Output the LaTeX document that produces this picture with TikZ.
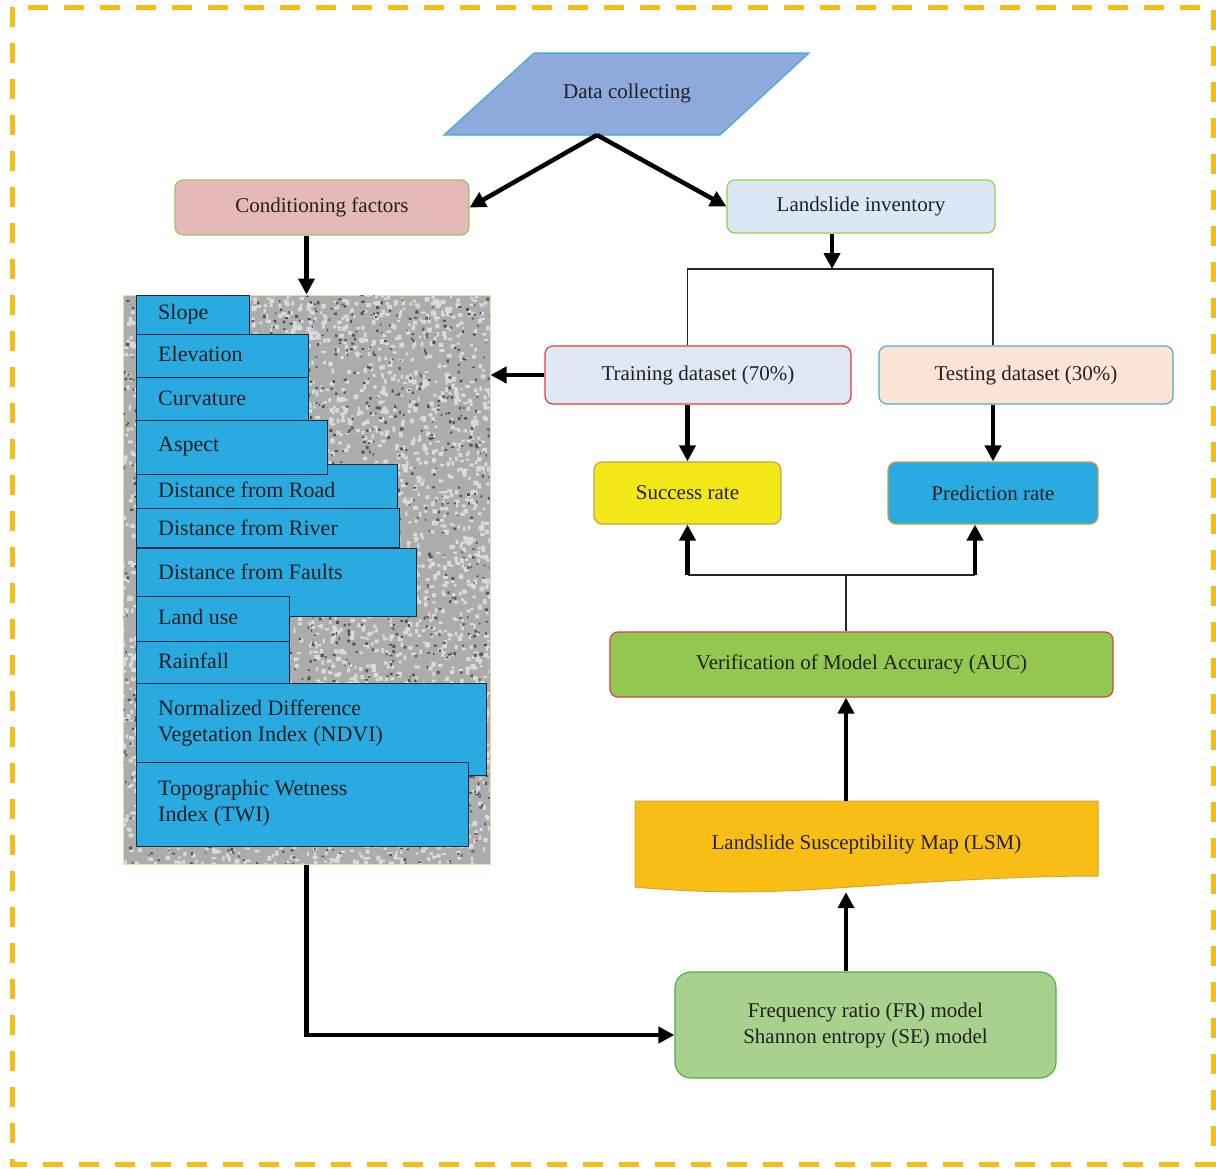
\documentclass[tikz,border=0pt]{standalone}
\usepackage{fontspec}
\setmainfont{Liberation Serif}
\usetikzlibrary{arrows.meta,calc}
\definecolor{txt}{RGB}{35,31,32}
\definecolor{frame}{RGB}{245,190,20}
\definecolor{dcfill}{RGB}{142,169,219}
\definecolor{dcline}{RGB}{64,170,220}
\definecolor{condfill}{RGB}{230,185,185}
\definecolor{condline}{RGB}{155,195,90}
\definecolor{invfill}{RGB}{218,232,246}
\definecolor{invline}{RGB}{146,208,80}
\definecolor{trainfill}{RGB}{222,232,245}
\definecolor{redline}{RGB}{225,60,60}
\definecolor{testfill}{RGB}{251,228,214}
\definecolor{testline}{RGB}{75,172,198}
\definecolor{succfill}{RGB}{242,232,24}
\definecolor{tanline}{RGB}{200,160,70}
\definecolor{bluefill}{RGB}{41,171,226}
\definecolor{veriffill}{RGB}{146,200,80}
\definecolor{lsmfill}{RGB}{249,190,22}
\definecolor{lsmline}{RGB}{220,165,40}
\definecolor{frfill}{RGB}{169,209,142}
\definecolor{frline}{RGB}{76,175,80}
\definecolor{factline}{RGB}{27,42,65}
\definecolor{graybase}{RGB}{172,172,172}
\definecolor{graylight}{RGB}{218,218,218}
\definecolor{graydark}{RGB}{85,85,85}
\definecolor{grayline}{RGB}{240,220,160}
\tikzset{
  lbl/.style={font=\fontsize{21}{25}\selectfont, text=txt},
  box/.style={lbl, rounded corners=8pt, line width=1.2pt, draw, inner sep=0pt, align=center},
  factbox/.style={draw=factline, fill=bluefill, line width=1.1pt, inner sep=0pt, anchor=north west},
  ftext/.style={font=\fontsize{22}{26}\selectfont, text=txt, anchor=west, align=left, inner sep=0pt},
  bigarrow/.style={line width=4.5pt, draw=black, -{Triangle[length=16pt,width=16pt]}},
  thinline/.style={line width=1.4pt, draw=black!85},
}
\begin{document}
\begin{tikzpicture}[x=1pt,y=-1pt]
\useasboundingbox (0,0) rectangle (1216,1168);
% frame
\draw[frame, line width=5pt, dash pattern=on 20pt off 16pt] (12,7) rectangle (1213,1164);

% Data collecting parallelogram
\draw[fill=dcfill, draw=dcline, line width=1.2pt] (534,53) -- (809,53) -- (720,135) -- (444,135) -- cycle;
\node[lbl] (dc) at (627,93) {Data collecting};
\coordinate (dcapex) at (597,135);

% top boxes
\node[box, fill=condfill, draw=condline, minimum width=294pt, minimum height=55pt] (cond) at (322,207.5) {Conditioning factors};
\node[box, fill=invfill, draw=invline, minimum width=268pt, minimum height=53pt] (inv) at (861,206.5) {Landslide inventory};

% gray textured panel
\node[draw=grayline, fill=graybase, line width=1pt, minimum width=367pt, minimum height=569pt, inner sep=0pt] (gray) at (306.5,579.5) {};
\begin{scope}
  \clip (123.5,295.5) rectangle (489.5,863.5);
  \pgfmathsetseed{7}
  \fill[graylight] \foreach \i in {1,...,3600} { ({121+369*rnd},{293+571*rnd}) rectangle ++({2+3*rnd},{2+3*rnd}) };
  \fill[graydark] \foreach \i in {1,...,1500} { ({121+369*rnd},{293+571*rnd}) rectangle ++({1.2+2*rnd},{1.2+2*rnd}) };
\end{scope}

% factor boxes
\node[factbox, minimum width=113pt, minimum height=39pt] (f1) at (136,295) {};
\node[factbox, minimum width=172pt, minimum height=43pt] (f2) at (136,334) {};
\node[factbox, minimum width=172pt, minimum height=43pt] (f3) at (136,377) {};
\node[factbox, minimum width=261pt, minimum height=44pt] (f5) at (136,464) {};
\node[factbox, minimum width=191pt, minimum height=54pt] (f4) at (136,420) {};
\node[factbox, minimum width=263pt, minimum height=39pt] (f6) at (136,508) {};
\node[factbox, minimum width=280pt, minimum height=68pt] (f7) at (136,548) {};
\node[factbox, minimum width=153pt, minimum height=45pt] (f8) at (136,596) {};
\node[factbox, minimum width=153pt, minimum height=42pt] (f9) at (136,641) {};
\node[factbox, minimum width=350pt, minimum height=92pt] (f10) at (136,683) {};
\node[factbox, minimum width=332pt, minimum height=84pt] (f11) at (136,762) {};

\node[ftext] (t1) at (158,314) {Slope};
\node[ftext] (t2) at (158,354) {Elevation};
\node[ftext] (t3) at (158,398) {Curvature};
\node[ftext] (t4) at (158,447) {Aspect};
\node[ftext] (t5) at (158,490) {Distance from Road};
\node[ftext] (t6) at (158,528) {Distance from River};
\node[ftext] (t7) at (158,572) {Distance from Faults};
\node[ftext] (t8) at (158,617) {Land use};
\node[ftext] (t9) at (158,661) {Rainfall};
\node[ftext] (t10) at (158,723) {Normalized Difference\\[0pt]Vegetation Index (NDVI)};
\node[ftext] (t11) at (158,803) {Topographic Wetness\\[0pt]Index (TWI)};

% right column
\node[box, fill=trainfill, draw=redline, minimum width=306pt, minimum height=58pt] (train) at (698,375) {Training dataset (70\%)};
\node[box, fill=testfill, draw=testline, minimum width=294pt, minimum height=58pt] (test) at (1026,375) {Testing dataset (30\%)};
\node[box, fill=succfill, draw=tanline, minimum width=187pt, minimum height=62pt] (succ) at (687.5,493) {Success rate};
\node[box, fill=bluefill, draw=tanline, minimum width=210pt, minimum height=62pt] (pred) at (993,493) {Prediction rate};
\node[box, fill=veriffill, draw=redline, minimum width=503pt, minimum height=65pt] (verif) at (861.5,664.5) {Verification of Model Accuracy (AUC)};

% LSM document shape
\draw[fill=lsmfill, draw=lsmline, line width=1pt] (635,801) -- (1098,801) -- (1098,876)
  .. controls (1000,876) and (900,884) .. (820,889)
  .. controls (760,893) and (700,893) .. (635,887) -- cycle;
\node[lbl, minimum width=463pt, minimum height=86pt, inner sep=0pt] (lsm) at (866.5,844) {Landslide Susceptibility Map (LSM)};

\node[box, fill=frfill, draw=frline, rounded corners=16pt, minimum width=381pt, minimum height=106pt] (fr) at (865.5,1025) {Frequency ratio (FR) model\\[1pt]Shannon entropy (SE) model};

% helper coordinates
\coordinate (split) at (832,269);
\coordinate (mid) at (846,575);
\coordinate (ra) at (975,575);

% connectors
\draw[bigarrow] (dcapex) -- (cond.east);
\draw[bigarrow] (dcapex) -- (inv.west);
\draw[bigarrow] (cond.south -| gray.north) -- (gray.north);
\draw[bigarrow] (inv.south -| split) -- (split);
\draw[thinline] (succ.north |- train.north) -- (succ.north |- split) -- (pred.north |- split) -- (pred.north |- test.north);
\draw[bigarrow] (train.west) -- (train.west -| gray.east);
\draw[bigarrow] (succ.north |- train.south) -- (succ.north);
\draw[bigarrow] (pred.north |- test.south) -- (pred.north);
\draw[thinline] (verif.north -| mid) -- (mid);
\draw[thinline, line width=2pt] (succ.south |- mid) -- (ra);
\draw[bigarrow] (succ.south |- mid) -- (succ.south);
\draw[bigarrow] (ra) -- (ra |- pred.south);
\draw[bigarrow] (lsm.north -| mid) -- (verif.south -| mid);
\draw[bigarrow] (fr.north -| mid) -- ([yshift=-5pt]lsm.south -| mid);
\draw[bigarrow] (gray.south) -- (gray.south |- 0,1035) -- (fr.west |- 0,1035);
\end{tikzpicture}
\end{document}
